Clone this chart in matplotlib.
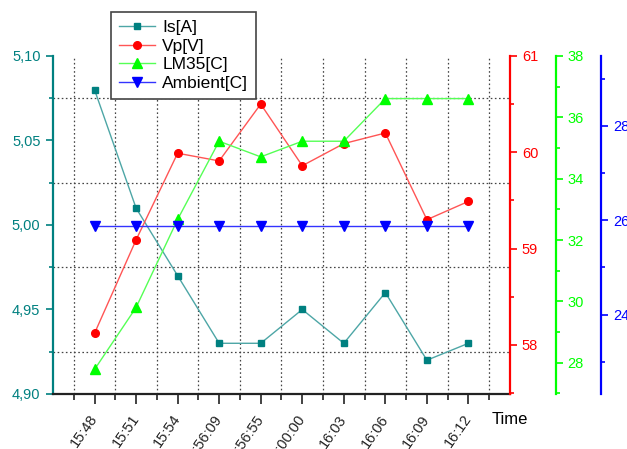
import numpy as np
import matplotlib
matplotlib.use("Agg")
import matplotlib.pyplot as plt
from matplotlib.ticker import MultipleLocator, FixedLocator, FuncFormatter

plt.rcParams['font.family'] = ['Liberation Sans', 'DejaVu Sans']

# data
times = ['15:48', '15:51', '15:54', '15:56:09', '15:56:55',
         '16:00:00', '16:03', '16:06', '16:09', '16:12']
is_a = [5.08, 5.01, 4.97, 4.93, 4.93, 4.95, 4.93, 4.96, 4.92, 4.93]
vp_v = [58.12, 59.09, 59.99, 59.91, 60.50, 59.86, 60.09, 60.20, 59.30, 59.49]
lm35_c = [27.78, 29.80, 32.67, 35.22, 34.71, 35.22, 35.22, 36.61, 36.61, 36.61]
ambient_c = [25.88] * 10

teal = '#008080'
red = '#ff0000'
green = '#00ff00'
blue = '#0000ff'

x = np.arange(len(times))

fig = plt.figure(figsize=(6.27, 4.49), dpi=100)
ax = fig.add_axes([0.0845, 0.1225, 0.7289, 0.7529])
ax_v = ax.twinx()
ax_lm = ax.twinx()
ax_amb = ax.twinx()

# lines drawn a bit lighter than the markers, like the original
l1, = ax.plot(x, is_a, color='#4da6a6', lw=1.0, marker='s', ms=5,
              mfc=teal, mec=teal, label='Is[A]')
l2, = ax_v.plot(x, vp_v, color='#ff5555', lw=1.0, marker='o', ms=5.5,
                mfc=red, mec=red, label='Vp[V]')
l3, = ax_lm.plot(x, lm35_c, color='#55ff55', lw=1.0, marker='^', ms=7,
                 mfc=green, mec=green, label='LM35[C]')
l4, = ax_amb.plot(x, ambient_c, color='#3333ff', lw=1.0, marker='v', ms=7,
                  mfc=blue, mec=blue, label='Ambient[C]')

# main axis
ax.set_xlim(-1, 10)
ax.set_ylim(4.90, 5.10)
ax.spines['top'].set_visible(False)
ax.spines['right'].set_visible(False)
ax.spines['left'].set_color(teal)
ax.spines['left'].set_linewidth(1.6)
ax.spines['bottom'].set_color('#222222')
ax.spines['bottom'].set_linewidth(1.6)
ax.yaxis.set_major_locator(MultipleLocator(0.05))
ax.yaxis.set_minor_locator(MultipleLocator(0.025))
ax.yaxis.set_major_formatter(FuncFormatter(lambda v, p: f'{v:.2f}'.replace('.', ',')))
ax.tick_params(axis='y', which='major', colors=teal, labelsize=10.5, length=5, width=1.2, pad=4)
ax.tick_params(axis='y', which='minor', colors=teal, length=3, width=1.2)
ax.set_xticks(x)
ax.set_xticklabels(times, rotation=55, ha='right', va='center', rotation_mode='anchor')
ax.xaxis.set_minor_locator(FixedLocator(np.arange(-0.5, 10, 1.0)))
ax.tick_params(axis='x', which='major', length=7, width=1.2, labelsize=10.5, pad=9, colors='#222222')
ax.tick_params(axis='x', which='minor', length=4, width=1.2, colors='#222222')
ax.grid(True, which='minor', color='#444444', lw=0.9, linestyle=(0, (1.3, 2.0)))
ax.set_xlabel('Time', fontsize=12)
ax.xaxis.set_label_coords(1.0, -0.074)
ax.xaxis.label.set_va('center')
ax.xaxis.label.set_ha('center')

def setup_twin(axx, color, pos, lim, major, minor):
    for s in ['left', 'top', 'bottom']:
        axx.spines[s].set_visible(False)
    axx.spines['right'].set_position(('axes', pos))
    axx.spines['right'].set_color(color)
    axx.spines['right'].set_linewidth(1.6)
    axx.set_ylim(*lim)
    axx.yaxis.set_major_locator(MultipleLocator(major))
    axx.yaxis.set_minor_locator(MultipleLocator(minor))
    axx.tick_params(axis='y', which='major', colors=color, labelsize=10.5, length=5, width=1.2, pad=3.5)
    axx.tick_params(axis='y', which='minor', colors=color, length=3, width=1.2)

setup_twin(ax_v, red, 1.0, (57.49, 61.0), 1, 0.5)
setup_twin(ax_lm, green, 1.1, (26.98, 38.0), 2, 1)
setup_twin(ax_amb, blue, 1.2, (22.32, 29.48), 2, 1)

leg = ax_amb.legend(handles=[l1, l2, l3, l4], loc='upper left',
                    bbox_to_anchor=(0.127, 1.13), borderaxespad=0,
                    fontsize=12.5, handlelength=2.1, handletextpad=0.4,
                    labelspacing=0.2, borderpad=0.45, fancybox=False,
                    framealpha=1, edgecolor='#444444')
leg.get_frame().set_linewidth(1.2)

fig.savefig('out.png', dpi=100)
